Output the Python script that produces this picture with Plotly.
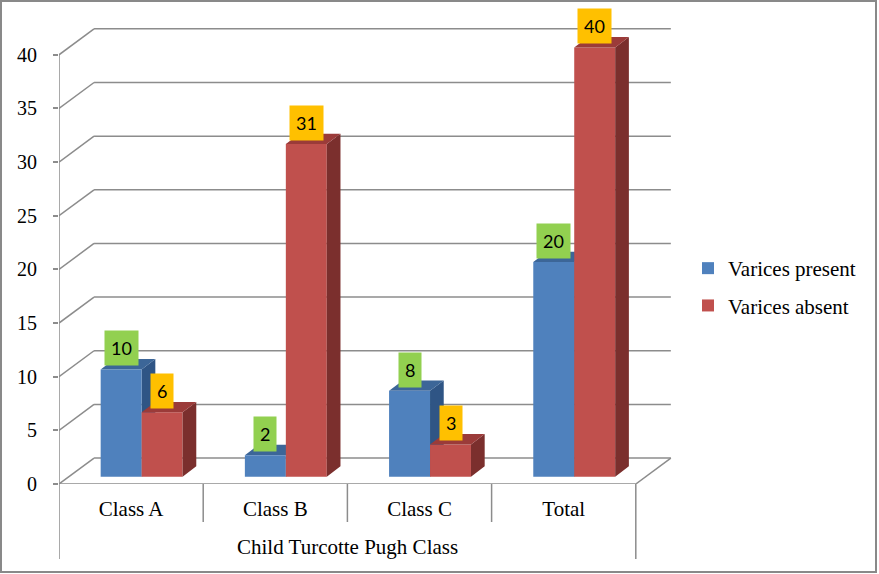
import plotly.graph_objects as go

# data
categories = ["Class A", "Class B", "Class C", "Total"]
group_title = "Child Turcotte Pugh Class"
present = [10, 2, 8, 20]
absent = [6, 31, 3, 40]
y_ticks = [0, 5, 10, 15, 20, 25, 30, 35, 40]

# colours: front, top, side face of the columns
blue = ("#4F81BD", "#3C6698", "#2F5585")
red = ("#C0504D", "#9B3B39", "#7B2F2D")
green_box = "#92D050"
amber_box = "#FFC000"
grey = "#8C8C8C"
serif = "Liberation Serif"

# fake 3d geometry in axis units (one category = 1 unit on x)
wall_dx, wall_dy = 0.243, 2.42     # offset of the back wall
shift_dx, base = 0.073, 0.68       # front face of the columns
depth_dx, depth_dy = 0.095, 0.97   # depth of a column
bar_w = 0.284

# figure layout in pixels
W, H = 879, 574
ml, mr, mt, mb = 59, 199, 20, 90
pw, ph = W - ml - mr, H - mt - mb
x_range = [0, pw / 144.2]
y_range = [0, ph / 10.73]

n = len(categories)
x_blue = [i + 0.5 - bar_w / 2 + shift_dx for i in range(n)]
x_red = [i + 0.5 + bar_w / 2 + shift_dx for i in range(n)]


def faces(xc, vals):
    """top and side polygons of the columns"""
    top_x, top_y, side_x, side_y = [], [], [], []
    for x, v in zip(xc, vals):
        x0, x1 = x - bar_w / 2, x + bar_w / 2
        h = base + v
        top_x += [x0, x1, x1 + depth_dx, x0 + depth_dx, x0, None]
        top_y += [h, h, h + depth_dy, h + depth_dy, h, None]
        side_x += [x1, x1 + depth_dx, x1 + depth_dx, x1, x1, None]
        side_y += [base, base + depth_dy, h + depth_dy, h, base, None]
    return top_x, top_y, side_x, side_y


def poly(xs, ys, color, axes):
    return go.Scatter(
        x=xs, y=ys, mode="lines", fill="toself", fillcolor=color,
        line=dict(width=0, color=color), hoverinfo="skip",
        showlegend=False, xaxis=axes[0], yaxis=axes[1],
    )


fig = go.Figure()

# blue top/side faces go on the lower subplot so the red fronts cover them
btx, bty, bsx, bsy = faces(x_blue, present)
fig.add_trace(poly(bsx, bsy, blue[2], ("x", "y")))
fig.add_trace(poly(btx, bty, blue[1], ("x", "y")))

fig.add_trace(go.Bar(
    x=x_blue, y=present, base=base, width=bar_w, name="Varices present",
    marker=dict(color=blue[0], line=dict(width=0)), legendgroup="a",
    xaxis="x2", yaxis="y2",
))
fig.add_trace(go.Bar(
    x=x_red, y=absent, base=base, width=bar_w, name="Varices absent",
    marker=dict(color=red[0], line=dict(width=0)), legendgroup="b",
    xaxis="x2", yaxis="y2",
))
rtx, rty, rsx, rsy = faces(x_red, absent)
fig.add_trace(poly(rsx, rsy, red[2], ("x2", "y2")))
fig.add_trace(poly(rtx, rty, red[1], ("x2", "y2")))

# back wall gridlines, floor and axis lines
shapes = []
line = dict(color=grey, width=1.5)
for v in y_ticks:
    shapes.append(dict(type="line", xref="x", yref="y", x0=0, y0=v,
                       x1=wall_dx, y1=v + wall_dy, line=line, layer="below"))
    shapes.append(dict(type="line", xref="x", yref="y", x0=wall_dx, y0=v + wall_dy,
                       x1=n + wall_dx, y1=v + wall_dy, line=line, layer="below"))
shapes.append(dict(type="line", xref="x", yref="y", x0=0, y0=0, x1=0, y1=y_ticks[-1],
                   line=line, layer="below"))
shapes.append(dict(type="line", xref="x", yref="y", x0=0, y0=0, x1=n, y1=0,
                   line=line, layer="below"))
shapes.append(dict(type="line", xref="x", yref="y", x0=n, y0=0, x1=n + wall_dx,
                   y1=wall_dy, line=line, layer="below"))
# category dividers under the axis
for i in range(n + 1):
    low = -75 / ph if i in (0, n) else -38 / ph
    shapes.append(dict(type="line", xref="x", yref="paper", x0=i, x1=i, y0=0, y1=low,
                       line=line))
# frame round the whole picture
shapes.append(dict(type="rect", xref="paper", yref="paper",
                   x0=-(ml - 1) / pw, x1=1 + (mr - 3) / pw,
                   y0=-(mb - 2) / ph, y1=1 + (mt - 1) / ph,
                   line=dict(color="#898989", width=2)))

# value boxes
annotations = []
for xs, vals, box in ((x_blue, present, green_box), (x_red, absent, amber_box)):
    for x, v in zip(xs, vals):
        annotations.append(dict(
            x=x, y=base + v + 0.3, xref="x", yref="y", text=str(v),
            showarrow=False, yanchor="bottom", bgcolor=box, borderpad=6,
            font=dict(family="Lato", size=18, color="black"),
        ))
annotations.append(dict(
    x=n / 2, y=-63 / ph, xref="x", yref="paper", text=group_title,
    showarrow=False, yanchor="middle", font=dict(family=serif, size=21, color="black"),
))

fig.update_layout(
    width=W, height=H,
    margin=dict(l=ml, r=mr, t=mt, b=mb),
    paper_bgcolor="white", plot_bgcolor="white",
    barmode="overlay",
    shapes=shapes, annotations=annotations,
    font=dict(family=serif, size=21, color="black"),
    xaxis=dict(range=x_range, tickvals=[i + 0.5 for i in range(n)], ticktext=categories,
               ticks="outside", ticklen=0, ticklabelstandoff=6,
               tickfont=dict(family=serif, size=21, color="black"),
               showgrid=False, zeroline=False, showline=False),
    yaxis=dict(range=y_range, tickvals=y_ticks, ticks="outside", ticklen=5,
               tickwidth=1.5, tickcolor=grey, ticklabelstandoff=12,
               tickfont=dict(family=serif, size=20, color="black"),
               showgrid=False, zeroline=False, showline=False),
    xaxis2=dict(overlaying="x", matches="x", visible=False),
    yaxis2=dict(overlaying="y", matches="y", visible=False),
    legend=dict(x=(688 - ml) / pw, y=(484 - 287) / ph, xanchor="left", yanchor="middle",
                tracegroupgap=7, bgcolor="rgba(0,0,0,0)",
                font=dict(family=serif, size=21, color="black")),
)

# the page has a default 8px body margin; drop it so the figure fills the window
fig.write_html("out.html", config={"displayModeBar": False},
               post_script="document.body.style.margin='0';")
